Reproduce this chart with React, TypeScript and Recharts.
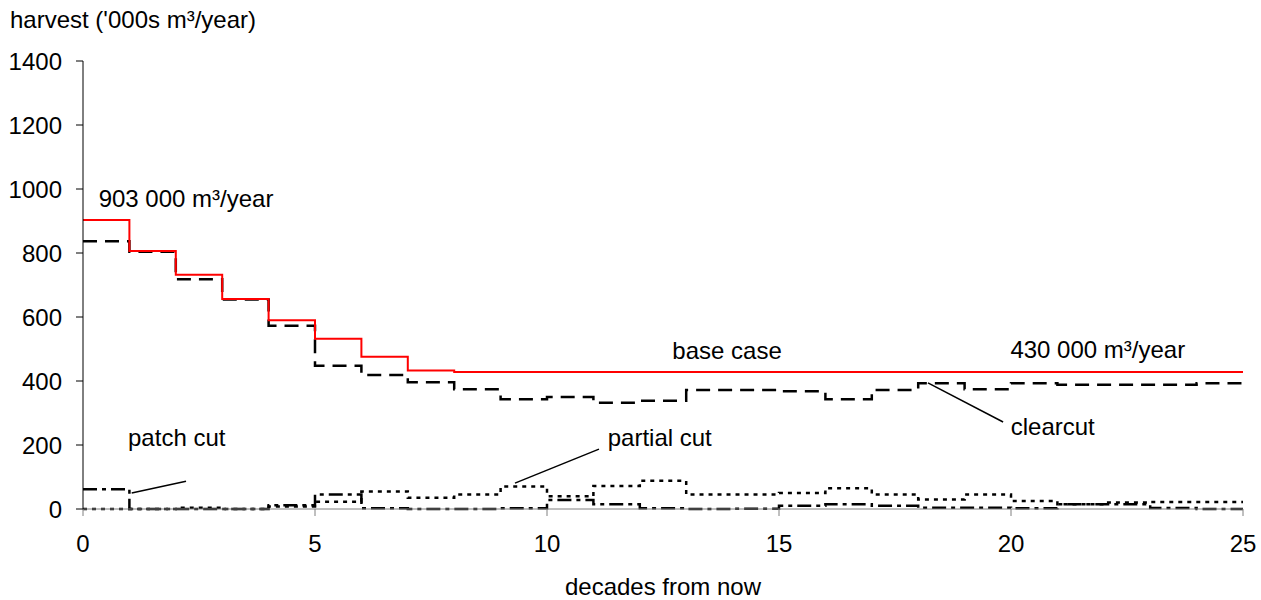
import { LineChart, Line, XAxis, YAxis, ReferenceLine, ReferenceDot, Label } from 'recharts';

const decades = [0, 1, 2, 3, 4, 5, 6, 7, 8, 9, 10, 11, 12, 13, 14, 15, 16, 17, 18, 19, 20, 21, 22, 23, 24, 25];

// value for decade i holds for [i, i+1); last entry repeats the final step
const baseCase = [903, 806, 732, 656, 590, 532, 476, 433, 428, 428, 428, 428, 428, 428, 428, 428, 428, 428, 428, 428, 428, 428, 428, 428, 428, 428];
const clearcut = [837, 804, 718, 655, 573, 448, 419, 396, 374, 343, 350, 332, 338, 372, 372, 368, 343, 372, 393, 374, 393, 388, 388, 388, 393, 393];
const partialCut = [0, 0, 4, 0, 8, 23, 55, 35, 45, 70, 40, 72, 88, 45, 45, 50, 65, 45, 30, 45, 25, 15, 20, 22, 22, 22];
const patchCut = [62, 0, 0, 0, 12, 45, 2, 0, 0, 2, 28, 15, 2, 0, 1, 10, 15, 10, 4, 4, 2, 15, 15, 3, 0, 0];

const yTicks = [0, 200, 400, 600, 800, 1000, 1200, 1400];
const xTicks = [0, 5, 10, 15, 20, 25];

const FONT = '"Liberation Sans", Arial, sans-serif';
const FS = 24;

export default function App() {
  const data = decades.map((d, i) => ({
    decade: d,
    base: baseCase[i],
    clearcut: clearcut[i],
    partial: partialCut[i],
    patch: patchCut[i],
  }));

  const labelStyle = { fill: '#000', fontSize: FS, fontFamily: FONT };

  return (
    <div style={{ position: 'absolute', left: 0, top: 0, width: 1261, height: 600, background: '#fff', fontFamily: FONT }}>
      <div style={{ position: 'absolute', left: 10, top: 8, fontSize: FS, lineHeight: '24px', color: '#000', whiteSpace: 'nowrap' }}>
        harvest ('000s m³/year)
      </div>
      <LineChart width={1261} height={600} data={data} margin={{ top: 61, right: 18, bottom: 0, left: 0 }}>
        <XAxis
          dataKey="decade"
          type="number"
          domain={[0, 25]}
          ticks={xTicks}
          height={91}
          tickSize={7}
          tickMargin={19}
          stroke="#808080"
          tick={{ fill: '#000', fontSize: FS, fontFamily: FONT }}
        >
          <Label value="decades from now" position="insideBottom" offset={5} style={labelStyle} />
        </XAxis>
        <YAxis
          domain={[0, 1400]}
          ticks={yTicks}
          width={83}
          tickSize={7}
          tickMargin={14}
          stroke="#000"
          tick={{ fill: '#000', fontSize: FS, fontFamily: FONT }}
        />
        <Line type="stepAfter" dataKey="partial" stroke="#000" strokeWidth={2.5} strokeDasharray="4 5" dot={false} isAnimationActive={false} />
        <Line type="stepAfter" dataKey="patch" stroke="#000" strokeWidth={2.5} strokeDasharray="14 5 4 5" dot={false} isAnimationActive={false} />
        <Line type="stepAfter" dataKey="clearcut" stroke="#000" strokeWidth={2.5} strokeDasharray="14 8" dot={false} isAnimationActive={false} />
        <Line type="stepAfter" dataKey="base" stroke="#ff0000" strokeWidth={2} dot={false} isAnimationActive={false} />

        <ReferenceLine segment={[{ x: 2.22, y: 87 }, { x: 1.05, y: 50 }]} stroke="#000" strokeWidth={1.5} />
        <ReferenceLine segment={[{ x: 11.12, y: 187 }, { x: 9.31, y: 81 }]} stroke="#000" strokeWidth={1.5} />
        <ReferenceLine segment={[{ x: 18.21, y: 394 }, { x: 19.83, y: 272 }]} stroke="#000" strokeWidth={1.5} />

        <ReferenceDot x={2.22} y={970} r={0} fill="none" stroke="none">
          <Label value="903 000 m³/year" position="center" style={labelStyle} />
        </ReferenceDot>
        <ReferenceDot x={13.88} y={494} r={0} fill="none" stroke="none">
          <Label value="base case" position="center" style={labelStyle} />
        </ReferenceDot>
        <ReferenceDot x={21.87} y={500} r={0} fill="none" stroke="none">
          <Label value="430 000 m³/year" position="center" style={labelStyle} />
        </ReferenceDot>
        <ReferenceDot x={20.9} y={259} r={0} fill="none" stroke="none">
          <Label value="clearcut" position="center" style={labelStyle} />
        </ReferenceDot>
        <ReferenceDot x={2.02} y={222} r={0} fill="none" stroke="none">
          <Label value="patch cut" position="center" style={labelStyle} />
        </ReferenceDot>
        <ReferenceDot x={12.43} y={222} r={0} fill="none" stroke="none">
          <Label value="partial cut" position="center" style={labelStyle} />
        </ReferenceDot>
      </LineChart>
    </div>
  );
}
